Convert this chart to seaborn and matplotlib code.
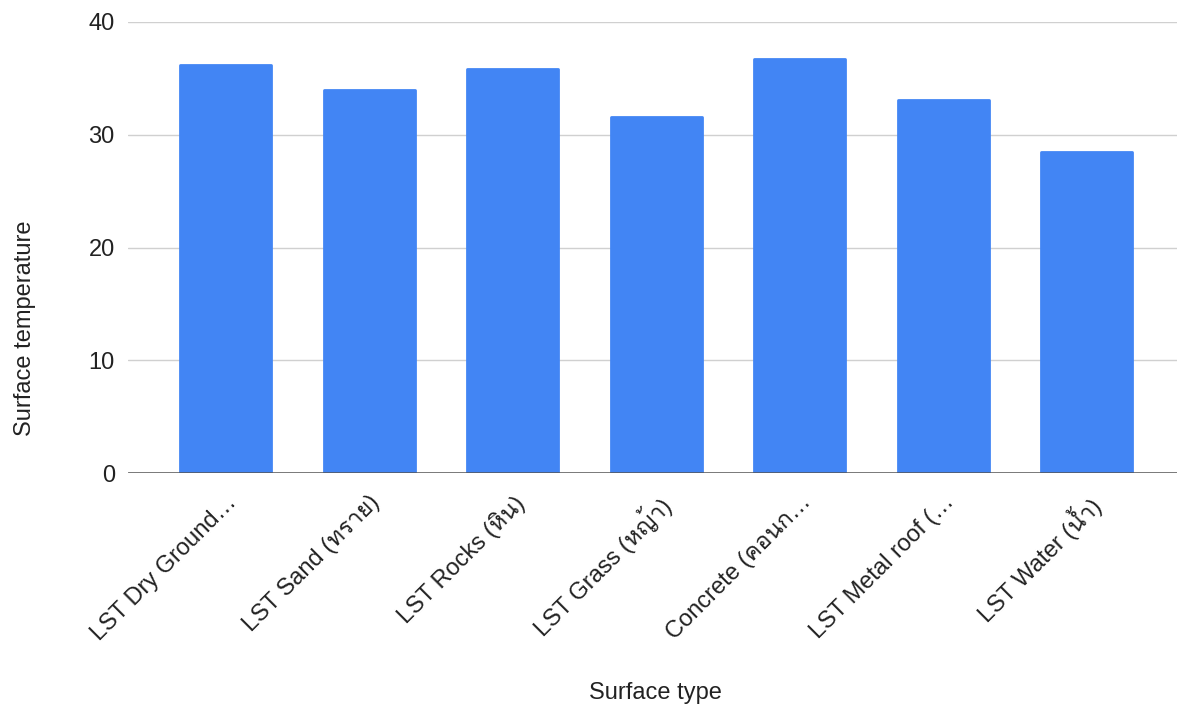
import matplotlib as mpl
mpl.use("Agg")
import matplotlib.pyplot as plt
import pandas as pd
import seaborn as sns
from matplotlib import font_manager
from matplotlib.ft2font import FT2Font

CATEGORIES = [
    "LST Dry Ground…",
    "LST Sand (ทราย)",
    "LST Rocks (หิน)",
    "LST Grass (หญ้า)",
    "Concrete (คอนก…",
    "LST Metal roof (…",
    "LST Water (น้ำ)",
]
TEMPS = [36.2, 34.0, 35.8, 31.6, 36.7, 33.1, 28.5]
Y_TICKS = [0, 10, 20, 30, 40]
BAR_COLOR = "#4285F4"


def thai_family():
    # look for any installed font that has Thai glyphs
    for f in font_manager.fontManager.ttflist:
        try:
            if 0x0E17 in FT2Font(f.fname).get_charmap():
                return f.name
        except Exception:
            continue
    return None


sns.set_style("white")
families = ["Liberation Sans", "DejaVu Sans"]
th = thai_family()
if th:
    families.insert(1, th)
plt.rcParams["font.family"] = families

df = pd.DataFrame({"surface": CATEGORIES, "temp": TEMPS})

fig = plt.figure(figsize=(11.77, 7.09), dpi=100)
ax = fig.add_axes([128 / 1177, 1 - 473 / 709, 1 - 128 / 1177, (473 - 22) / 709])

sns.barplot(data=df, x="surface", y="temp", color=BAR_COLOR, width=0.635,
            saturation=1, ax=ax, zorder=3)
# soften the corners a little, like the original
for bar in ax.patches:
    bar.set_edgecolor(BAR_COLOR)
    bar.set_linewidth(2)
    bar.set_joinstyle("round")

ax.set_ylim(0, 40)
ax.set_xlim(-0.68, 6.63)
ax.set_yticks(Y_TICKS)
ax.yaxis.grid(True, color="#d0d0d0", linewidth=1, zorder=0)
ax.axhline(0, color="#555555", linewidth=1.8, zorder=4)
for s in ax.spines.values():
    s.set_visible(False)
ax.tick_params(axis="both", length=0, labelsize=17, colors="#222222")
ax.tick_params(axis="y", pad=9.5)
ax.tick_params(axis="x", pad=13)
ax.set_xticks(range(len(CATEGORIES)))
ax.set_xticklabels(CATEGORIES, rotation=45, ha="right", rotation_mode="anchor")
ax.set_xlabel("")
ax.set_ylabel("")

fig.text(25 / 1177, 1 - 328 / 709, "Surface temperature", rotation=90,
         ha="center", va="center", fontsize=17, color="#222222")
fig.text(655 / 1177, 1 - 693 / 709, "Surface type",
         ha="center", va="center", fontsize=17, color="#222222")

fig.savefig("out.png", dpi=100)
